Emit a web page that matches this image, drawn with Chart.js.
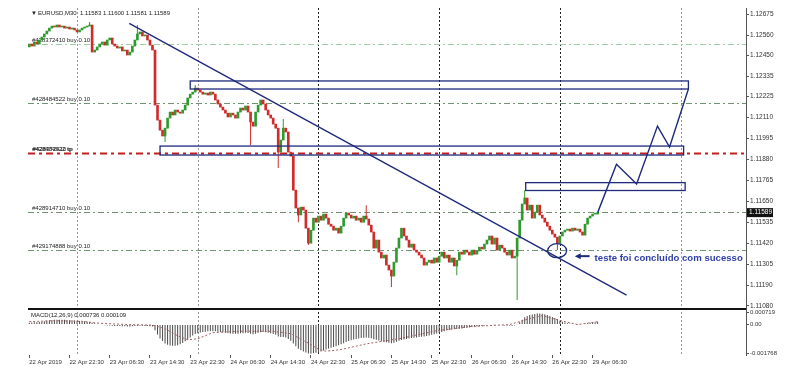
<!DOCTYPE html>
<html>
<head>
<meta charset="utf-8">
<script src="https://cdn.jsdelivr.net/npm/chart.js@4.4.1/dist/chart.umd.min.js"></script>
<style>
  html, body { margin: 0; padding: 0; background: #fff; }
</style>
</head>
<body>
<canvas id="chart" width="790" height="374"></canvas>
<script>
// EURUSD M30, 22 Apr 14:30 .. 29 Apr 07:30 (one close per bar)
const firstOpen = 1.12495;
const closes = [
  1.12511, 1.12500, 1.12522, 1.12511, 1.12533, 1.12549, 1.12566, 1.12582, 1.12598, 1.12609,
  1.12604, 1.12615, 1.12604, 1.12609, 1.12598, 1.12604, 1.12593, 1.12598, 1.12588, 1.12577,
  1.12588, 1.12598, 1.12604, 1.12609, 1.12615, 1.12467, 1.12478, 1.12495, 1.12511, 1.12522,
  1.12505, 1.12533, 1.12544, 1.12511, 1.12500, 1.12489, 1.12495, 1.12473, 1.12478, 1.12451,
  1.12467, 1.12500, 1.12533, 1.12566, 1.12577, 1.12555, 1.12560, 1.12533, 1.12505, 1.12478,
  1.12177, 1.12095, 1.12040, 1.12008, 1.12051, 1.12106, 1.12139, 1.12123, 1.12150, 1.12139,
  1.12133, 1.12150, 1.12177, 1.12216, 1.12237, 1.12248, 1.12270, 1.12259, 1.12248, 1.12237,
  1.12243, 1.12232, 1.12248, 1.12237, 1.12205, 1.12183, 1.12166, 1.12150, 1.12133, 1.12112,
  1.12133, 1.12123, 1.12106, 1.12139, 1.12161, 1.12150, 1.12172, 1.12139, 1.12084, 1.12062,
  1.12139, 1.12177, 1.12205, 1.12183, 1.12150, 1.12123, 1.12106, 1.12073, 1.12051, 1.11920,
  1.11986, 1.12051, 1.12030, 1.11920, 1.11898, 1.11712, 1.11614, 1.11576, 1.11619, 1.11603,
  1.11504, 1.11422, 1.11493, 1.11559, 1.11537, 1.11570, 1.11548, 1.11581, 1.11559, 1.11526,
  1.11515, 1.11493, 1.11504, 1.11477, 1.11515, 1.11559, 1.11587, 1.11576, 1.11559, 1.11570,
  1.11548, 1.11559, 1.11537, 1.11570, 1.11554, 1.11521, 1.11483, 1.11395, 1.11439, 1.11373,
  1.11341, 1.11357, 1.11302, 1.11275, 1.11242, 1.11318, 1.11395, 1.11450, 1.11504, 1.11461,
  1.11439, 1.11400, 1.11417, 1.11384, 1.11373, 1.11357, 1.11341, 1.11302, 1.11318, 1.11329,
  1.11313, 1.11341, 1.11318, 1.11351, 1.11373, 1.11341, 1.11357, 1.11318, 1.11341, 1.11297,
  1.11329, 1.11373, 1.11362, 1.11384, 1.11373, 1.11357, 1.11384, 1.11362, 1.11379, 1.11400,
  1.11390, 1.11417, 1.11439, 1.11461, 1.11417, 1.11450, 1.11384, 1.11411, 1.11395, 1.11373,
  1.11357, 1.11384, 1.11341, 1.11351, 1.11450, 1.11548, 1.11636, 1.11669, 1.11603, 1.11630,
  1.11559, 1.11592, 1.11630, 1.11576, 1.11559, 1.11537, 1.11515, 1.11493, 1.11472, 1.11455,
  1.11422, 1.11461, 1.11483, 1.11493, 1.11499, 1.11488, 1.11504, 1.11493, 1.11499, 1.11483,
  1.11466, 1.11526, 1.11559, 1.11570, 1.11581, 1.11581, 1.11589
];
// the longer wicks that stand out: [bar, price]
const wickHighs = [[24, 1.12631], [43, 1.12615], [66, 1.12287], [101, 1.12101], [134, 1.11630], [197, 1.11712]];
const wickLows = [[54, 1.11975], [88, 1.11958], [99, 1.11833], [107, 1.11537], [111, 1.11412],
                  [144, 1.11182], [170, 1.11247], [194, 1.11111], [210, 1.11384]];

// MACD(12,26,9) histogram per bar
const macdHist = [
  0.00012, 0.00013, 0.00014, 0.00015, 0.00016, 0.00017, 0.00020, 0.00024, 0.00027, 0.00028,
  0.00029, 0.00029, 0.00030, 0.00029, 0.00029, 0.00028, 0.00027, 0.00026, 0.00025, 0.00024,
  0.00022, 0.00021, 0.00020, 0.00018, 0.00016, 0.00012, 0.00008, 0.00005, -0.00002, -0.00003,
  -0.00004, -0.00005, -0.00006, -0.00007, -0.00008, -0.00008, -0.00009, -0.00010, -0.00010, -0.00011,
  -0.00011, -0.00010, -0.00009, -0.00008, -0.00007, -0.00007, -0.00008, -0.00009, -0.00010, -0.00012,
  -0.00035, -0.00060, -0.00085, -0.00100, -0.00115, -0.00122, -0.00127, -0.00129, -0.00128, -0.00125,
  -0.00120, -0.00112, -0.00102, -0.00090, -0.00078, -0.00066, -0.00057, -0.00052, -0.00048, -0.00045,
  -0.00043, -0.00041, -0.00040, -0.00040, -0.00041, -0.00043, -0.00045, -0.00048, -0.00050, -0.00053,
  -0.00054, -0.00055, -0.00056, -0.00055, -0.00053, -0.00052, -0.00050, -0.00051, -0.00055, -0.00058,
  -0.00055, -0.00050, -0.00046, -0.00045, -0.00047, -0.00050, -0.00053, -0.00057, -0.00062, -0.00072,
  -0.00076, -0.00075, -0.00078, -0.00088, -0.00098, -0.00115, -0.00132, -0.00147, -0.00156, -0.00163,
  -0.00170, -0.00176, -0.00177, -0.00175, -0.00172, -0.00168, -0.00163, -0.00157, -0.00151, -0.00146,
  -0.00141, -0.00136, -0.00131, -0.00126, -0.00120, -0.00113, -0.00106, -0.00100, -0.00095, -0.00091,
  -0.00087, -0.00084, -0.00082, -0.00080, -0.00079, -0.00080, -0.00083, -0.00089, -0.00092, -0.00097,
  -0.00101, -0.00104, -0.00108, -0.00111, -0.00113, -0.00110, -0.00104, -0.00098, -0.00093, -0.00090,
  -0.00087, -0.00085, -0.00082, -0.00080, -0.00078, -0.00076, -0.00074, -0.00072, -0.00069, -0.00066,
  -0.00062, -0.00058, -0.00054, -0.00050, -0.00045, -0.00040, -0.00036, -0.00033, -0.00030, -0.00028,
  -0.00027, -0.00025, -0.00023, -0.00021, -0.00019, -0.00017, -0.00015, -0.00013, -0.00011, -0.00009,
  -0.00008, -0.00006, -0.00004, -0.00002, -0.00002, -0.00001, -0.00003, -0.00003, -0.00004, -0.00005,
  -0.00006, -0.00006, -0.00007, -0.00006, 0.00002, 0.00015, 0.00030, 0.00045, 0.00052, 0.00058,
  0.00062, 0.00065, 0.00067, 0.00068, 0.00066, 0.00063, 0.00058, 0.00052, 0.00046, 0.00040,
  0.00032, 0.00024, 0.00018, 0.00013, 0.00009, 0.00006, 0.00004, 0.00003, 0.00002, 0.00002,
  0.00003, 0.00005, 0.00008, 0.00011, 0.00013, 0.00015, 0.00017
];
// signal line, read at its turning points: [bar, value]
const macdSignal = [
  [0, 0.00018], [10, 0.00024], [21, 0.00020], [28, 0.00008], [40, 0], [49, -0.00003], [54, -0.00025],
  [59, -0.00068], [63, -0.00092], [67, -0.00086], [73, -0.00049], [84, -0.00040], [97, -0.00041],
  [104, -0.00055], [110, -0.00104], [115, -0.00150], [118, -0.00162], [124, -0.00152], [134, -0.00117],
  [147, -0.00086], [162, -0.00037], [175, -0.00012], [191, 0], [199, 0.00037], [204, 0.00055],
  [211, 0.00025], [218, 0], [226, 0.00018]
];

const timeLabels = ["22 Apr 2019", "22 Apr 22:30", "23 Apr 06:30", "23 Apr 14:30", "23 Apr 22:30",
  "24 Apr 06:30", "24 Apr 14:30", "24 Apr 22:30", "25 Apr 06:30", "25 Apr 14:30", "25 Apr 22:30",
  "26 Apr 06:30", "26 Apr 14:30", "26 Apr 22:30", "29 Apr 06:30"];
const labelBars = [0, 16, 32, 48, 64, 80, 96, 112, 128, 144, 160, 176, 192, 208, 224];
const priceTicks = [1.12675, 1.12560, 1.12450, 1.12335, 1.12225, 1.12110, 1.11995, 1.11880,
  1.11765, 1.11650, 1.11535, 1.11420, 1.11305, 1.11190, 1.11080];
const macdTicks = [0.000719, 0, -0.001768];
const macdTickText = ["0.000719", "0.00", "-0.001768"];
const daySeparators = [19, 67, 115, 163, 211, 259];

// drawn objects (bar, price)
const trendLine = [[39.75, 1.12624], [237.5, 1.11138]];
const projection = [[226, 1.11589], [233.5, 1.11854], [241.5, 1.11745], [249.8, 1.12062], [254.6, 1.11948], [262.1, 1.12265]];
const zones = [[64, 262.1, 1.12309, 1.12265], [52, 260.2, 1.11953, 1.11904], [197.4, 260.8, 1.11753, 1.11710]];
const orderPrices = [1.12511, 1.12188, 1.11915, 1.11592, 1.11384];
const orderTexts = [["#428372410 buy 0.10"], ["#428484522 buy 0.10"], ["#428484522 tp", "#428372410 tp"],
  ["#428914710 buy 0.10"], ["#429174888 buy 0.10"]];
const testMark = [209.9, 1.11381];
const noteText = "teste foi concluído com sucesso";

const opens = closes.map((c, i) => i === 0 ? firstOpen : closes[i - 1]);
const highs = closes.map((c, i) => Math.max(c, opens[i]));
const lows = closes.map((c, i) => Math.min(c, opens[i]));
wickHighs.forEach(([i, p]) => { highs[i] = Math.max(highs[i], p); });
wickLows.forEach(([i, p]) => { lows[i] = Math.min(lows[i], p); });

const FAM = '"Liberation Sans", Arial, sans-serif';
const navy = '#1f2a7c';
const bull = '#2f9b2f', bear = '#d02c2c';
const candleColor = c => closes[c.dataIndex] >= opens[c.dataIndex] ? bull : bear;
const font = (size, bold) => (bold ? 'bold ' : '') + size + 'px ' + FAM;

const overlay = {
  id: 'overlay',
  beforeDatasetsDraw(chart) {
    const { ctx, chartArea: a, scales: { x, y } } = chart;
    ctx.save();
    ctx.lineWidth = 1;
    ctx.setLineDash([2, 2]);
    daySeparators.forEach((b, i) => {
      const px = Math.round(x.getPixelForValue(b)) + 0.5;
      ctx.strokeStyle = (i >= 2 && i <= 4) ? '#222' : '#999';
      ctx.beginPath(); ctx.moveTo(px, a.top); ctx.lineTo(px, a.bottom); ctx.stroke();
    });
    const lineCol = ['#9fd09f', '#6f946f', '#c41f1f', '#6f946f', '#6f946f'];
    orderPrices.forEach((p, i) => {
      const py = Math.round(y.getPixelForValue(p)) + 0.5;
      ctx.strokeStyle = lineCol[i];
      ctx.lineWidth = i === 2 ? 2 : 1;
      ctx.setLineDash(i === 2 ? [7, 4, 3, 4] : [6, 3, 2, 3]);
      ctx.beginPath(); ctx.moveTo(a.left, py); ctx.lineTo(a.right, py); ctx.stroke();
      ctx.fillStyle = '#222';
      ctx.font = font(6);
      ctx.textBaseline = 'bottom';
      orderTexts[i].forEach((t, k) => ctx.fillText(t, a.left + 4 + k * 0.7, py - 1));
    });
    ctx.restore();
  },
  afterDatasetsDraw(chart) {
    const { ctx, chartArea: a, scales: { x, y } } = chart;
    ctx.save();
    ctx.strokeStyle = navy;
    ctx.lineWidth = 1.3;
    zones.forEach(([b0, b1, p0, p1]) => {
      const l = x.getPixelForValue(b0), r = x.getPixelForValue(b1);
      const t = y.getPixelForValue(p0), btm = y.getPixelForValue(p1);
      ctx.strokeRect(l, t, r - l, btm - t);
    });
    // circle around the retest
    ctx.beginPath();
    ctx.ellipse(x.getPixelForValue(testMark[0]), y.getPixelForValue(testMark[1]), 9.5, 7, 0, 0, Math.PI * 2);
    ctx.stroke();
    // arrow pointing at it
    const ay = y.getPixelForValue(1.11351);
    const ax0 = x.getPixelForValue(222.8), ax1 = x.getPixelForValue(216.9);
    ctx.lineWidth = 2;
    ctx.beginPath(); ctx.moveTo(ax0, ay); ctx.lineTo(ax1 + 4, ay); ctx.stroke();
    ctx.fillStyle = navy;
    ctx.beginPath(); ctx.moveTo(ax1, ay); ctx.lineTo(ax1 + 6, ay - 3); ctx.lineTo(ax1 + 6, ay + 3); ctx.closePath(); ctx.fill();
    // note
    ctx.fillStyle = '#2f3fa6';
    ctx.font = font(9.6, true);
    ctx.textBaseline = 'middle';
    ctx.fillText(noteText, x.getPixelForValue(224.8), y.getPixelForValue(1.11340));
    // pane divider
    ctx.fillStyle = '#111';
    ctx.fillRect(a.left, y.bottom - 1, a.right - a.left, 2);
    // current price tag
    const cp = y.getPixelForValue(closes[closes.length - 1]);
    ctx.fillRect(a.right + 1, cp - 4.5, 26, 9);
    ctx.fillStyle = '#fff';
    ctx.font = font(6.5);
    ctx.fillText(closes[closes.length - 1].toFixed(5), a.right + 3, cp);
    // headers
    ctx.fillStyle = '#222';
    ctx.font = font(6);
    ctx.fillText('\u25BC', a.left + 3, 13);
    ctx.fillText('EURUSD,M30  1.11583 1.11600 1.11581 1.11589', a.left + 10, 13);
    ctx.fillText('MACD(12,26,9) 0.000736 0.000109', a.left + 3, y.bottom + 6);
    ctx.restore();
  }
};

new Chart(document.getElementById('chart'), {
  type: 'bar',
  data: {
    datasets: [
      { type: 'line', data: trendLine.map(([b, p]) => ({ x: b, y: p })), yAxisID: 'y',
        borderColor: navy, borderWidth: 1.4, pointRadius: 0, tension: 0, order: 0 },
      { type: 'line', data: projection.map(([b, p]) => ({ x: b, y: p })), yAxisID: 'y',
        borderColor: navy, borderWidth: 1.4, pointRadius: 0, tension: 0, order: 0 },
      { type: 'line', data: macdSignal.map(([b, v]) => ({ x: b, y: v })), yAxisID: 'y2',
        borderColor: '#a06060', borderWidth: 1, borderDash: [2, 2], pointRadius: 0, tension: 0, order: 0 },
      { data: closes.map((c, i) => ({ x: i, y: [opens[i], c] })), yAxisID: 'y',
        backgroundColor: candleColor, barThickness: 2, minBarLength: 1, grouped: false, order: 1 },
      { data: closes.map((c, i) => ({ x: i, y: [lows[i], highs[i]] })), yAxisID: 'y',
        backgroundColor: candleColor, barThickness: 1, inflateAmount: 0, grouped: false, order: 2 },
      { data: macdHist.map((v, i) => ({ x: i, y: v })), yAxisID: 'y2',
        backgroundColor: '#4a4a4a', barThickness: 1, inflateAmount: 0, grouped: false, order: 3 }
    ]
  },
  options: {
    responsive: false,
    animation: false,
    events: [],
    layout: { padding: { left: 28, top: 8, right: 0, bottom: 0 } },
    plugins: { legend: { display: false }, tooltip: { enabled: false } },
    scales: {
      x: {
        type: 'linear', min: -0.5, max: 285, offset: false, position: 'bottom',
        grid: { drawOnChartArea: false, drawTicks: true, tickLength: 3, color: '#555', offset: false },
        border: { display: false },
        ticks: { autoSkip: false, maxRotation: 0, align: 'start', padding: 1, color: '#333',
                 font: { size: 6, family: FAM }, callback: (v, i) => timeLabels[i] },
        afterBuildTicks: s => { s.ticks = labelBars.map(v => ({ value: v })); },
        afterFit: s => { s.height = 19; }
      },
      y: {
        type: 'linear', position: 'right', stack: 'pane', stackWeight: 301,
        min: 1.11062, max: 1.12708,
        grid: { drawOnChartArea: false, drawTicks: true, tickLength: 3, color: '#555' },
        border: { display: true, color: '#555' },
        ticks: { padding: 1, color: '#333', font: { size: 6.5, family: FAM }, callback: v => v.toFixed(5) },
        afterBuildTicks: s => { s.ticks = priceTicks.map(v => ({ value: v })); },
        afterFit: s => { s.width = 44; }
      },
      y2: {
        type: 'linear', position: 'right', stack: 'pane', stackWeight: 46,
        min: -0.00185, max: 0.00095,
        grid: { drawOnChartArea: false, drawTicks: true, tickLength: 3, color: '#555' },
        border: { display: true, color: '#555' },
        ticks: { padding: 1, color: '#333', font: { size: 6, family: FAM }, callback: (v, i) => macdTickText[i] },
        afterBuildTicks: s => { s.ticks = macdTicks.map(v => ({ value: v })); },
        afterFit: s => { s.width = 44; }
      }
    }
  },
  plugins: [overlay]
});
</script>
</body>
</html>
